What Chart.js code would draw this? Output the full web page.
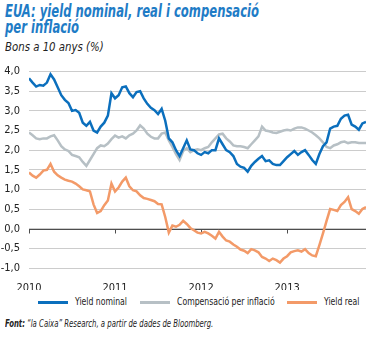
<!DOCTYPE html>
<html>
<head>
<meta charset="utf-8">
<script src="https://cdn.jsdelivr.net/npm/chart.js@4/dist/chart.umd.min.js"></script>
<style>
  body { margin: 0; background: #fff; width: 381px; height: 338px; overflow: hidden; position: relative; font-family: "DejaVu Sans Condensed", sans-serif; color: #222; }
  .title { position: absolute; left: 5px; top: 3px; color: #1f7cc6; font-weight: bold; font-style: italic; font-size: 17px; line-height: 16px; white-space: nowrap; transform: scaleX(0.76); transform-origin: left top; }
  .subtitle { position: absolute; left: 5px; top: 39px; font-style: italic; font-size: 13px; white-space: nowrap; transform: scaleX(0.87); transform-origin: left top; }
  .source { position: absolute; left: 5px; top: 318px; font-style: italic; font-size: 10px; white-space: nowrap; transform: scaleX(0.77); transform-origin: left top; }
  #wrap { position: absolute; left: 0; top: 56px; width: 381px; height: 234px; }
  .item { position: absolute; top: 296px; height: 12px; }
  .item i { position: absolute; left: 0; top: 5px; width: 30px; height: 3px; }
  .item span { position: absolute; left: 37px; top: 0; font-size: 10px; line-height: 12px; white-space: nowrap; transform: scaleX(0.86); transform-origin: left top; }
</style>
</head>
<body>
<div class="title">EUA: yield nominal, real i compensació<br>per inflació</div>
<div class="subtitle">Bons a 10 anys (%)</div>
<div id="wrap"><canvas id="yieldChart"></canvas></div>
<div id="legend"></div>
<div class="source"><b>Font:</b> “la Caixa” Research, a partir de dades de Bloomberg.</div>
<script>
// months since Jan 2010, every half month
const months = [];
for (let i = 0; i <= 94; i++) months.push(i / 2);

const yearLabels = ["2010", "2011", "2012", "2013"];
const yTicks = [4, 3.5, 3, 2.5, 2, 1.5, 1, 0.5, 0, -0.5, -1];

const nominal = [
  3.83, 3.72, 3.62, 3.66, 3.64, 3.72, 3.93, 3.8, 3.6, 3.4, 3.28, 3.2,
  3.0, 3.02, 2.95, 2.7, 2.62, 2.72, 2.5, 2.45, 2.6, 2.7, 2.88, 3.45,
  3.32, 3.4, 3.6, 3.62, 3.45, 3.35, 3.48, 3.5, 3.32, 3.18, 3.08, 3.02,
  2.92, 3.05, 2.75, 2.3, 2.2, 2.0, 1.85, 2.05, 2.25, 2.02, 2.0, 1.92,
  1.88, 1.95, 1.92, 2.0, 2.0, 2.3, 2.15, 2.0, 1.95, 1.85, 1.65, 1.58,
  1.55, 1.45, 1.6, 1.7, 1.78, 1.85, 1.72, 1.74, 1.65, 1.62, 1.62, 1.72,
  1.82, 1.9, 1.98, 1.88, 1.95, 2.0, 1.88, 1.75, 1.65, 1.9, 2.1, 2.2,
  2.55, 2.6, 2.62, 2.8, 2.88, 2.9, 2.65, 2.6, 2.52, 2.68, 2.72
];
const breakeven = [
  2.45, 2.38, 2.3, 2.28, 2.3, 2.3, 2.35, 2.38, 2.25, 2.1, 2.02, 1.98,
  1.88, 1.85, 1.82, 1.7, 1.6, 1.75, 1.9, 2.05, 2.12, 2.1, 2.17, 2.28,
  2.37, 2.32, 2.35, 2.3, 2.38, 2.42, 2.5, 2.63, 2.55, 2.42, 2.34, 2.3,
  2.3, 2.42, 2.45, 2.25, 2.08, 1.9, 1.75, 1.98, 2.05, 1.95, 2.0, 2.02,
  2.0, 2.05, 2.08, 2.2, 2.3, 2.4, 2.42, 2.3, 2.22, 2.12, 2.1, 2.1,
  2.08, 2.05, 2.15, 2.25, 2.35, 2.6, 2.5, 2.48, 2.45, 2.44, 2.47, 2.5,
  2.52, 2.5, 2.55, 2.58, 2.58, 2.55, 2.5, 2.45, 2.38, 2.3, 2.2, 2.08,
  2.05, 2.12, 2.15, 2.2, 2.22, 2.18, 2.2, 2.2, 2.18, 2.18, 2.18
];
const real = [
  1.43, 1.35, 1.3, 1.38, 1.48, 1.5, 1.65, 1.45, 1.36, 1.3, 1.25, 1.22,
  1.2, 1.15, 1.08, 1.0, 0.98, 0.95, 0.62, 0.4, 0.45, 0.6, 0.72, 1.15,
  0.95, 1.05, 1.2, 1.3, 1.08, 0.98, 0.95, 0.85, 0.78, 0.76, 0.73, 0.7,
  0.63, 0.62, 0.3, -0.1, 0.08, 0.05, 0.1, 0.2, 0.12, 0.02, -0.04, -0.1,
  -0.12, -0.08, -0.12, -0.18, -0.25, -0.08, -0.2, -0.3, -0.33, -0.4, -0.46, -0.53,
  -0.56, -0.62, -0.52, -0.55, -0.6, -0.72, -0.76, -0.82, -0.76, -0.8, -0.86, -0.76,
  -0.7, -0.6, -0.57, -0.55, -0.58, -0.52, -0.62, -0.68, -0.7, -0.42, -0.12, 0.2,
  0.5, 0.48, 0.45, 0.6, 0.68, 0.8, 0.5, 0.45, 0.38, 0.5, 0.55
];

const FONT = "'DejaVu Sans Condensed', sans-serif";

function pts(values) {
  return values.map((v, i) => ({ x: months[i], y: v }));
}

// zero line and little year ticks hanging from it
const zeroLine = {
  id: "zeroLine",
  beforeDatasetsDraw(chart) {
    const { ctx, chartArea, scales } = chart;
    const y0 = Math.round(scales.y.getPixelForValue(0)) + 0.5;
    ctx.save();
    ctx.strokeStyle = "#4d4d4d";
    ctx.lineWidth = 1;
    ctx.beginPath();
    ctx.moveTo(chartArea.left, y0);
    ctx.lineTo(chartArea.right, y0);
    yearLabels.forEach((lbl, i) => {
      const x = Math.round(scales.x.getPixelForValue(i * 12)) + 0.5;
      ctx.moveTo(x, y0);
      ctx.lineTo(x, y0 + 4);
    });
    ctx.stroke();
    ctx.restore();
  }
};

const chart = new Chart(document.getElementById("yieldChart"), {
  type: "line",
  data: {
    datasets: [
      { label: "Yield nominal", data: pts(nominal), borderColor: "#0b6fbd", borderWidth: 2.5 },
      { label: "Compensació per inflació", data: pts(breakeven), borderColor: "#b7c0c5", borderWidth: 2.5 },
      { label: "Yield real", data: pts(real), borderColor: "#f39a68", borderWidth: 2.5 }
    ]
  },
  options: {
    responsive: true,
    maintainAspectRatio: false,
    animation: false,
    elements: { point: { radius: 0 }, line: { tension: 0 } },
    layout: { padding: { top: 12, right: 15, left: 0, bottom: 0 } },
    scales: {
      x: {
        type: "linear",
        min: 0,
        max: 47,
        grid: { display: false },
        border: { display: false },
        afterFit: (s) => { s.height = 22; },
        ticks: {
          stepSize: 12,
          includeBounds: false,
          padding: 6,
          color: "#222",
          font: { family: FONT, size: 11 },
          callback: (v) => yearLabels[v / 12]
        }
      },
      y: {
        min: -1,
        max: 4,
        afterFit: (s) => { s.width = 29; },
        afterBuildTicks: (s) => { s.ticks = yTicks.map(v => ({ value: v })); },
        grid: { color: "#cccccc", drawTicks: false },
        border: { display: false },
        ticks: {
          autoSkip: false,
          padding: 9,
          color: "#222",
          font: { family: FONT, size: 11 },
          callback: (v) => v.toFixed(1).replace(".", ",")
        }
      }
    },
    plugins: {
      tooltip: { enabled: false },
      legend: { display: false }
    }
  },
  plugins: [zeroLine]
});

// legend below the plot, one item per dataset
const legendLeft = [38, 140, 287];
const legend = document.getElementById("legend");
chart.data.datasets.forEach((d, i) => {
  const item = document.createElement("div");
  item.className = "item";
  item.style.left = legendLeft[i] + "px";
  item.innerHTML = '<i style="background:' + d.borderColor + '"></i><span>' + d.label + "</span>";
  legend.appendChild(item);
});
</script>
</body>
</html>
